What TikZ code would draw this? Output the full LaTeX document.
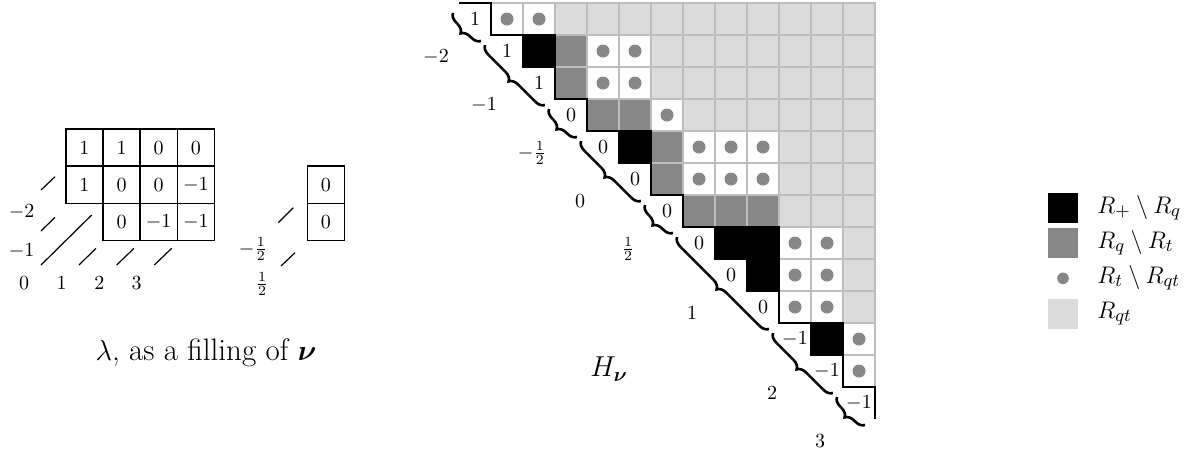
\documentclass[tikz,border=0pt]{standalone}
\usepackage{bm}
\usetikzlibrary{decorations.pathreplacing}
\definecolor{qdark}{gray}{0.53}
\definecolor{qlight}{gray}{0.86}
\definecolor{qline}{gray}{0.74}
\tikzset{
  lightcell/.style={fill=qlight, draw=qline, line width=0.6pt},
  darkcell/.style={fill=qdark, draw=qline, line width=0.6pt},
  dotcell/.style={fill=white, draw=qline, line width=0.6pt},
  blackcell/.style={fill=black, draw=black, line width=0.6pt},
  stair/.style={line width=0.8pt},
  hbrace/.style={decorate, decoration={brace, amplitude=4.5pt}, line width=1.3pt},
  num/.style={font=\fontsize{10}{12}\selectfont, inner sep=0pt},
  ycell/.style={draw, line width=0.8pt},
  slash/.style={line width=0.6pt},
  legtext/.style={font=\fontsize{12.5}{15}\selectfont, anchor=base west, inner sep=0pt},
}
\begin{document}
\begin{tikzpicture}[x=0.5pt,y=-0.5pt]
\useasboundingbox (0,0) rectangle (1191,450);

% ---------- right grid H_nu ----------
\foreach \i in {0,...,11} {
  \pgfmathtruncatemacro\s{\i+1}
  \foreach \j in {\s,...,12} {
    \path[lightcell] ({459+32*\j},{3+32*\i}) rectangle ++(32,32);
  }
}
\foreach \i/\j in {1/3,2/3,3/4,3/5,4/6,5/6,6/7,6/8,6/9} {
  \path[darkcell] ({459+32*\j},{3+32*\i}) rectangle ++(32,32);
}
\foreach \i/\j in {0/1,0/2,1/4,1/5,2/4,2/5,3/6,4/7,4/8,4/9,5/7,5/8,5/9,7/10,7/11,8/10,8/11,9/10,9/11,10/12,11/12} {
  \path[dotcell] ({459+32*\j},{3+32*\i}) rectangle ++(32,32);
  \fill[qdark] ({475+32*\j},{19+32*\i}) circle[radius=3.25pt];
}
\foreach \i/\j in {1/2,4/5,7/8,7/9,8/9,10/11} {
  \path[blackcell] ({459+32*\j},{3+32*\i}) rectangle ++(32,32);
}
\draw[stair] (459,3) \foreach \k in {1,...,13} { -- ({459+32*\k},{3+32*(\k-1)}) -- ({459+32*\k},{3+32*\k}) };

\foreach \v [count=\k from 0] in {1,1,1,0,0,0,0,0,0,0,-1,-1,-1} {
  \node[num] (d\k) at ({475+32*\k},{19+32*\k}) {$\v$};
}
\foreach \a/\b/\lab [count=\k] in {0/0/{-2}, 1/2/{-1}, 3/3/{-\frac12}, 4/5/{0}, 6/6/{\frac12}, 7/9/{1}, 10/11/{2}, 12/12/{3}} {
  \draw[hbrace] ({483+32*\b-2},{43+32*\b-2}) -- ({451+32*\a+2},{11+32*\a+2});
  \node[num] (bl\k) at ({436+16*(\a+\b)},{57+16*(\a+\b)}) {$\lab$};
}
\node[font=\fontsize{14.5}{17}\selectfont, anchor=base west, inner sep=0pt] (H) at (590,376.7) {$H_{\bm{\nu}}$};

% ---------- left diagram ----------
\foreach \r/\c/\v [count=\k] in {0/0/1, 0/1/1, 0/2/0, 0/3/0, 1/0/1, 1/1/0, 1/2/0, 1/3/-1, 2/1/0, 2/2/-1, 2/3/-1} {
  \draw[ycell] ({65.7+37.2*\c},{129+37.2*\r}) rectangle ++(37.2,37.2);
  \node[num] (lc\k) at ({84.3+37.2*\c},{147.6+37.2*\r}) {$\v$};
}
\draw[ycell] (307.3,166.2) rectangle ++(37.2,37.2);
\draw[ycell] (307.3,203.4) rectangle ++(37.2,37.2);
\node[num] (m1) at (325.9,184.8) {$0$};
\node[num] (m2) at (325.9,222) {$0$};

\draw[slash] (41,190) -- (55,176.7);
\draw[slash] (41,231) -- (55,217.3);
\draw[slash] (41,265) -- (91.7,215);
\draw[slash] (79,265) -- (96,248.3);
\draw[slash] (116.7,265) -- (134,248.3);
\draw[slash] (154.3,265) -- (171.7,248.3);
\draw[slash] (278.3,222.7) -- (293.3,207.7);
\draw[slash] (281,266) -- (295,252.7);

\node[num] (lm2) at (21.7,211.7) {$-2$};
\node[num] (lm1) at (21.7,250.7) {$-1$};
\node[num] (l0) at (24,283.3) {$0$};
\node[num] (l1) at (61.7,283.3) {$1$};
\node[num] (l2) at (99.3,283.3) {$2$};
\node[num] (l3) at (136.7,283.3) {$3$};
\node[num] (lmh) at (253,249) {$-\frac12$};
\node[num] (lh) at (262,284) {$\frac12$};

\node[font=\fontsize{15.5}{18}\selectfont, anchor=base, inner sep=0pt] (cap) at (206,360) {$\lambda$, as a filling of $\bm{\nu}$};

% ---------- legend ----------
\fill[black] (1048.3,193.3) rectangle (1077.7,222.7);
\fill[qdark] (1048.3,228.3) rectangle (1077.7,257.7);
\fill[qdark] (1063,278.3) circle[radius=2.9pt];
\fill[qlight] (1048.3,299.3) rectangle (1077.7,328.7);
\node[legtext] (t1) at (1097,213.3) {$R_+\setminus R_q$};
\node[legtext] (t2) at (1097,248.3) {$R_q\setminus R_t$};
\node[legtext] (t3) at (1097,283.3) {$R_t\setminus R_{qt}$};
\node[legtext] (t4) at (1097,318.3) {$R_{qt}$};
\end{tikzpicture}
\end{document}
